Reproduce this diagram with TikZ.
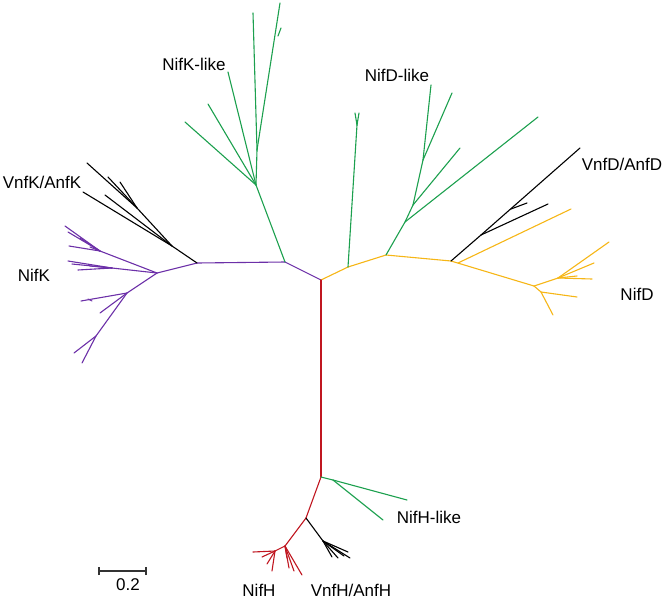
\documentclass[tikz,border=0pt]{standalone}
\usepackage{fontspec}
\setmainfont{Liberation Sans}
\definecolor{tgreen}{RGB}{28,160,78}
\definecolor{tpurple}{RGB}{108,48,168}
\definecolor{tyellow}{RGB}{246,182,22}
\definecolor{tred}{RGB}{192,22,32}
\begin{document}
\begin{tikzpicture}[x=1pt,y=-1pt,
  br/.style={line width=1.1pt,line cap=round,line join=round},
  lbl/.style={font=\fontsize{17}{17}\selectfont,inner sep=0pt,text=black}]
\useasboundingbox (0,0) rectangle (667,600);
% ---- central
\coordinate (root) at (321,280);
% ---- purple NifK
\coordinate (pA) at (285,262);
\coordinate (pB) at (197,263);
\coordinate (pN1) at (157,273);
\coordinate (pP1) at (100,251);
\coordinate (pl1) at (65,226);
\coordinate (pl2) at (68,232);
\coordinate (pl3) at (69,246);
\coordinate (pl4) at (90,247);
\coordinate (pl5) at (80,238);
\coordinate (pP2) at (112,268);
\coordinate (pm1) at (68,261);
\coordinate (pm2) at (72,264);
\coordinate (pm3) at (78,270);
\coordinate (pm4) at (90,266);
\coordinate (pP3) at (127,293);
\coordinate (pq1) at (81,301);
\coordinate (pq1a) at (88,299);
\coordinate (pq1b) at (92,301);
\coordinate (pq2) at (100,313);
\coordinate (pP4) at (96,336);
\coordinate (pr1) at (74,353);
\coordinate (pr2) at (82,363);
% ---- black VnfK/AnfK
\coordinate (kA) at (172,246);
\coordinate (kB) at (137,208);
\coordinate (k1) at (87,163);
\coordinate (k2) at (108,177);
\coordinate (k3) at (120,182);
\coordinate (k4) at (83,192);
\coordinate (k5) at (105,195);
% ---- green NifK-like
\coordinate (gK1) at (256,185);
\coordinate (gK2) at (257,150);
\coordinate (gKa) at (185,122);
\coordinate (gKb) at (208,104);
\coordinate (gKc) at (228,72);
\coordinate (gKd) at (253,13);
\coordinate (gKe) at (280,3);
\coordinate (gKt) at (278,36);
\coordinate (gKf) at (281,28);
% ---- yellow NifD
\coordinate (yY1) at (348,267);
\coordinate (yY2) at (386,255);
\coordinate (yY3) at (451,261);
\coordinate (yY3b) at (458,263);
\coordinate (yl1) at (571,209);
\coordinate (yY4) at (534,286);
\coordinate (yY5) at (558,278);
\coordinate (ya1) at (609,242);
\coordinate (ya2) at (594,263);
\coordinate (ya3) at (592,279);
\coordinate (ya4) at (577,276);
\coordinate (yY6) at (541,292);
\coordinate (yb1) at (577,297);
\coordinate (yb2) at (553,315);
% ---- green NifD-like
\coordinate (gD0) at (357,125);
\coordinate (gD0a) at (355,113);
\coordinate (gD0b) at (359,113);
\coordinate (gD1) at (405,222);
\coordinate (gD2) at (413,205);
\coordinate (gD3) at (423,160);
\coordinate (gDa) at (538,117);
\coordinate (gDb) at (460,148);
\coordinate (gDc) at (431,85);
\coordinate (gDd) at (452,93);
% ---- black VnfD/AnfD
\coordinate (bD1) at (481,235);
\coordinate (bD2) at (511,209);
\coordinate (bDa) at (580,148);
\coordinate (bDb) at (527,203);
\coordinate (bDc) at (548,204);
% ---- red NifH
\coordinate (rR1) at (321,477);
\coordinate (rR2) at (306,518);
\coordinate (rR3) at (285,546);
\coordinate (rR4) at (275,551);
\coordinate (rl1) at (253,552);
\coordinate (rl2) at (262,557);
\coordinate (rl3) at (267,564);
\coordinate (rl4) at (272,571);
\coordinate (rr1) at (287,558);
\coordinate (rr2) at (289,568);
\coordinate (rr3) at (294,571);
\coordinate (rr4) at (302,575);
% ---- green NifH-like
\coordinate (gH0) at (333,480);
\coordinate (gHa) at (407,500);
\coordinate (gHb) at (383,520);
% ---- black VnfH/AnfH
\coordinate (bH) at (323,541);
\coordinate (bHa) at (332,557);
\coordinate (bHb) at (338,558);
\coordinate (bHc) at (344,556);
\coordinate (bHd) at (350,558);
\coordinate (bHe) at (348,552);

% ---- edges
\foreach \a/\b in {root/pA,pA/pB,pB/pN1,pN1/pP1,pP1/pl1,pP1/pl2,pP1/pl3,pP1/pl4,pP1/pl5,
  pN1/pP2,pP2/pm1,pP2/pm2,pP2/pm3,pP2/pm4,pN1/pP3,pP3/pq1,pq1a/pq1b,pP3/pq2,pP3/pP4,pP4/pr1,pP4/pr2}
  \draw[br,tpurple] (\a) -- (\b);
\foreach \a/\b in {pB/kA,kA/k4,kA/k5,kA/kB,kB/k1,kB/k2,kB/k3}
  \draw[br,black] (\a) -- (\b);
\foreach \a/\b in {pA/gK1,gK1/gKa,gK1/gKb,gK1/gKc,gK1/gK2,gK2/gKd,gK2/gKe,gKt/gKf}
  \draw[br,tgreen] (\a) -- (\b);
\foreach \a/\b in {root/yY1,yY1/yY2,yY2/yY3,yY3/yY4,yY3b/yl1,yY4/yY5,yY5/ya1,yY5/ya2,yY5/ya3,yY5/ya4,
  yY4/yY6,yY6/yb1,yY6/yb2}
  \draw[br,tyellow] (\a) -- (\b);
\foreach \a/\b in {yY1/gD0,gD0/gD0a,gD0/gD0b,yY2/gD1,gD1/gDa,gD1/gD2,gD2/gDb,gD2/gD3,gD3/gDc,gD3/gDd}
  \draw[br,tgreen] (\a) -- (\b);
\foreach \a/\b in {yY3/bD1,bD1/bDa,bD1/bDc,bD2/bDb}
  \draw[br,black] (\a) -- (\b);
\foreach \a/\b in {root/rR1,rR1/rR2,rR2/rR3,rR3/rR4,rR4/rl1,rR4/rl2,rR4/rl3,rR4/rl4,
  rR3/rr1,rR3/rr2,rR3/rr3,rR3/rr4}
  \draw[br,tred] (\a) -- (\b);
\foreach \a/\b in {rR1/gH0,gH0/gHa,gH0/gHb}
  \draw[br,tgreen] (\a) -- (\b);
\foreach \a/\b in {rR2/bH,bH/bHa,bH/bHb,bH/bHc,bH/bHd,bH/bHe}
  \draw[br,black] (\a) -- (\b);

% ---- scale bar
\coordinate (sL) at (99,571);
\coordinate (sR) at (146,571);
\draw[line width=1.2pt,black!80] (sL) -- (sR);
\draw[line width=1.2pt,black!80] ([yshift=-4pt]sL) -- ([yshift=4pt]sL);
\draw[line width=1.2pt,black!80] ([yshift=-4pt]sR) -- ([yshift=4pt]sR);

% ---- labels
\node[lbl] (tNifKlike) at (194,64) {NifK-like};
\node[lbl] (tNifDlike) at (397,75) {NifD-like};
\node[lbl] (tVnfK) at (42,182) {VnfK/AnfK};
\node[lbl] (tNifK) at (34,275) {NifK};
\node[lbl] (tVnfD) at (622,164) {VnfD/AnfD};
\node[lbl] (tNifD) at (637,294) {NifD};
\node[lbl] (tNifHlike) at (429,517) {NifH-like};
\node[lbl,anchor=base] (tNifH) at (259,596) {NifH};
\node[lbl,anchor=base] (tVnfH) at (351,596) {VnfH/AnfH};
\node[lbl] (tscale) at (128,585) {0.2};
\end{tikzpicture}
\end{document}
